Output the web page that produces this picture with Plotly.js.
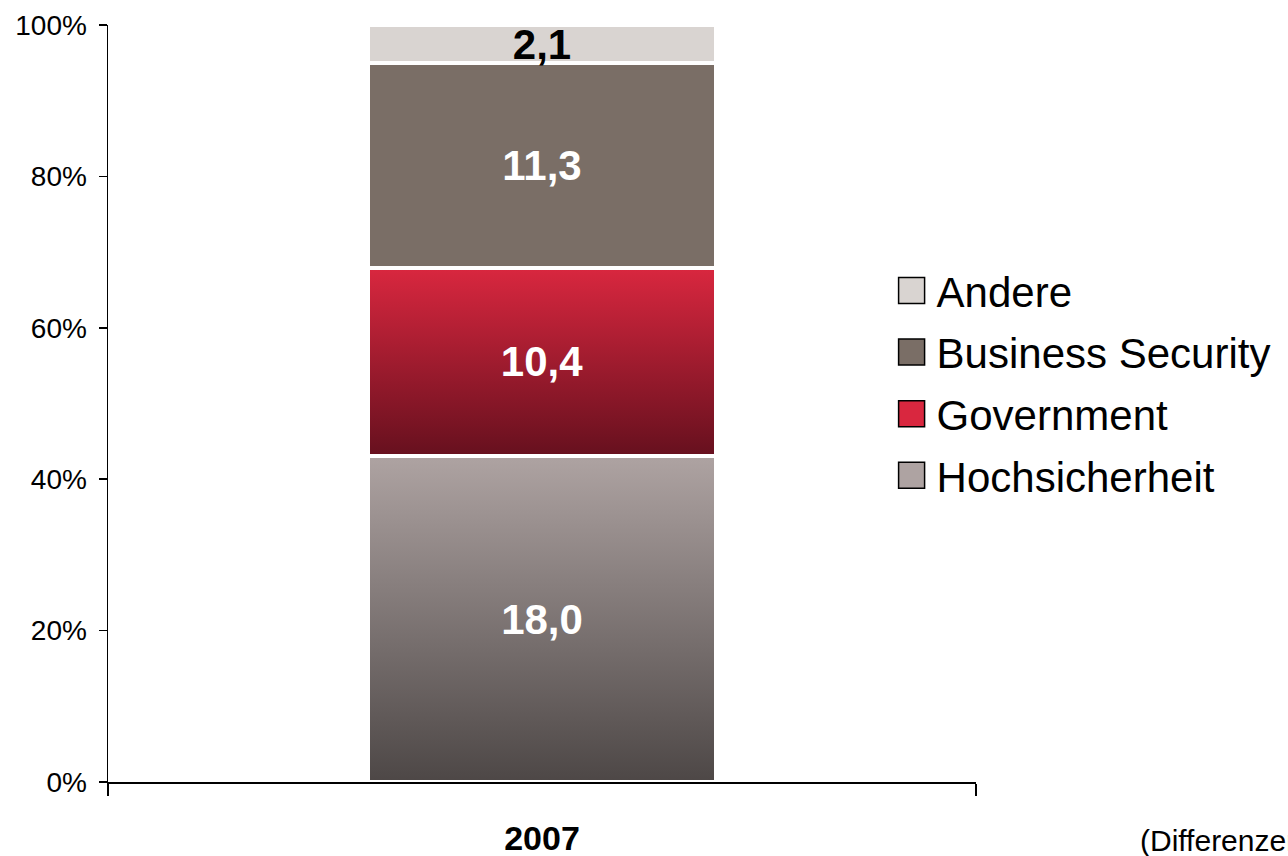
<!DOCTYPE html>
<html>
<head>
<meta charset="utf-8">
<script src="https://cdn.plot.ly/plotly-3.0.1.min.js"></script>
<style>
  html, body { margin: 0; padding: 0; background: #ffffff; }
  #chart { width: 1288px; height: 856px; }
</style>
</head>
<body>
<div id="chart"></div>
<script>
// ---- data ----
const categories = ['2007'];
const seriesNames = ['Hochsicherheit', 'Government', 'Business Security', 'Andere'];
const hochsicherheit = [18.0];
const government = [10.4];
const businessSecurity = [11.3];
const andere = [2.1];
const yTickLabels = ['0%', '20%', '40%', '60%', '80%', '100%'];
const footnote = '(Differenzen durch Rundung)';

const seriesValues = [hochsicherheit, government, businessSecurity, andere];
const seriesColors = ['#aea3a2', '#d9273f', '#7a6e66', '#d9d4d1'];
const textColors = ['#ffffff', '#ffffff', '#ffffff', '#000000'];
const FONT = 'Liberation Sans, Arial, sans-serif';

function fmt(v) { return v.toFixed(1).replace('.', ','); }

const traces = seriesNames.map((name, i) => ({
  type: 'bar',
  name: name,
  x: categories,
  y: seriesValues[i],
  text: seriesValues[i].map(fmt),
  texttemplate: '%{text}',
  textposition: 'inside',
  insidetextanchor: 'middle',
  constraintext: 'none',
  textfont: { family: FONT, size: 42, color: textColors[i], weight: 'bold' },
  marker: { color: seriesColors[i], line: { color: '#ffffff', width: 4 } },
  width: 0.40,
  legendgroup: 'g' + i,
  legendrank: seriesNames.length - i,
  hoverinfo: 'name+y'
}));

const layout = {
  width: 1288,
  height: 856,
  margin: { l: 108, r: 312, t: 25, b: 74 },
  paper_bgcolor: '#ffffff',
  plot_bgcolor: '#ffffff',
  barmode: 'stack',
  barnorm: 'percent',
  separators: ',.',
  showlegend: true,
  font: { family: FONT, color: '#000000' },
  xaxis: {
    type: 'category',
    range: [-0.5, 0.5],
    showline: true, linecolor: '#000000', linewidth: 1.5,
    ticks: 'outside', tickson: 'boundaries', ticklen: 12, tickwidth: 1.5, tickcolor: '#000000',
    tickfont: { family: FONT, size: 34, color: '#000000', weight: 'bold' },
    ticklabelstandoff: 26,
    showgrid: false, zeroline: false
  },
  yaxis: {
    range: [0, 100],
    tickvals: [0, 20, 40, 60, 80, 100],
    ticktext: yTickLabels,
    showline: true, linecolor: '#000000', linewidth: 1.5,
    ticks: 'outside', ticklen: 8, tickwidth: 1.5, tickcolor: '#000000',
    tickfont: { family: FONT, size: 28, color: '#000000' },
    ticklabelstandoff: 6,
    showgrid: false, zeroline: false
  },
  legend: {
    x: 0.897, xanchor: 'left',
    y: 0.694, yanchor: 'top',
    traceorder: 'grouped',
    tracegroupgap: 4,
    itemwidth: 40,
    font: { family: FONT, size: 42, color: '#000000' },
    bgcolor: 'rgba(0,0,0,0)',
    borderwidth: 0
  },
  annotations: [{
    xref: 'paper', yref: 'paper',
    x: (1138 - 108) / 868, y: -0.077,
    xanchor: 'left', yanchor: 'middle',
    text: footnote, showarrow: false,
    font: { family: FONT, size: 30, color: '#000000' }
  }]
};

const gradients = {
  0: ['#aea3a2', '#4d4746'],
  1: ['#d9273f', '#66101e']
};

function applyStyling() {
  const gd = document.getElementById('chart');
  const svg = gd.querySelector('.main-svg');
  if (!svg) return;
  let defs = svg.querySelector('defs#customgrad');
  if (!defs) {
    const ns = 'http://www.w3.org/2000/svg';
    defs = document.createElementNS(ns, 'defs');
    defs.setAttribute('id', 'customgrad');
    Object.keys(gradients).forEach(k => {
      const lg = document.createElementNS(ns, 'linearGradient');
      lg.setAttribute('id', 'grad' + k);
      lg.setAttribute('x1', '0'); lg.setAttribute('y1', '0');
      lg.setAttribute('x2', '0'); lg.setAttribute('y2', '1');
      [[0, gradients[k][0]], [1, gradients[k][1]]].forEach(([o, c]) => {
        const st = document.createElementNS(ns, 'stop');
        st.setAttribute('offset', o);
        st.setAttribute('stop-color', c);
        lg.appendChild(st);
      });
      defs.appendChild(lg);
    });
    svg.insertBefore(defs, svg.firstChild);
  }
  const barTraces = gd.querySelectorAll('.barlayer .trace.bars');
  barTraces.forEach((tr, i) => {
    if (gradients[i]) {
      tr.querySelectorAll('.point path').forEach(p => { p.style.fill = 'url(#grad' + i + ')'; });
    }
  });
  // bigger legend swatches with dark border
  gd.querySelectorAll('.legend .legendpoints path').forEach(p => {
    p.setAttribute('d', 'M13,13H-13V-13H13Z');
    p.style.stroke = '#000000';
    p.style.strokeWidth = '1.5px';
  });
}

Plotly.newPlot('chart', traces, layout, { displayModeBar: false, staticPlot: true }).then(gd => {
  applyStyling();
  gd.on('plotly_afterplot', applyStyling);
});
</script>
</body>
</html>
